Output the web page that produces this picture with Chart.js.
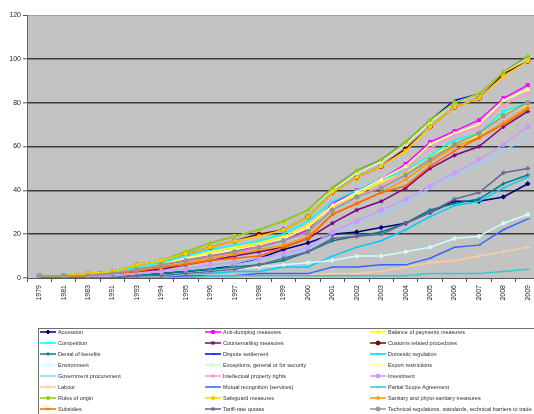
<!DOCTYPE html>
<html>
<head>
<meta charset="utf-8">
<script src="https://cdn.jsdelivr.net/npm/chart.js@4.4.1/dist/chart.umd.min.js"></script>
<style>
  html, body { margin: 0; padding: 0; background: #fff; overflow: hidden; width: 534px; height: 414px; }
  canvas { display: block; }
</style>
</head>
<body>
<canvas id="c" width="548" height="414"></canvas>
<script>
// Years on the category axis
const years = ['1979','1981','1983','1991','1993','1994','1995','1996','1997','1998','1999',
               '2000','2001','2002','2003','2004','2005','2006','2007','2008','2009'];

// Y-axis tick labels
const yTicks = [0, 20, 40, 60, 80, 100, 120];

// Cumulative number of agreements containing each provision
const accession          = [0,0,0,0,1,2,3,4,6,9,13,16,20,21,23,25,30,35,35,37,43];
const antiDumping        = [1,1,1,2,4,6,8,10,12,15,17,22,34,40,45,52,62,67,72,82,88];
const balanceOfPayments  = [1,1,2,3,5,7,9,12,14,16,19,24,33,38,44,48,56,61,65,75,79];
const competition        = [1,1,2,3,5,7,10,13,15,17,20,26,35,40,45,49,56,63,66,76,80];
const countervailing     = [0,0,1,2,3,4,6,8,10,12,14,18,25,31,35,41,50,56,60,69,76];
const customsProcedures  = [1,1,2,3,6,8,11,14,17,20,22,28,39,46,51,59,69,78,82,93,99];
const denialOfBenefits   = [0,0,0,1,1,2,3,4,5,6,8,12,17,19,21,25,31,34,36,43,47];
const disputeSettlement  = [1,1,2,3,6,8,12,16,19,22,26,31,41,49,54,62,72,81,84,94,101];
const domesticRegulation = [0,0,0,0,1,1,2,2,3,3,5,5,10,14,17,22,28,33,35,41,46];
const environment        = [0,0,0,0,0,1,2,3,4,5,6,7,8,10,10,12,14,18,19,25,29];
const exceptions         = [1,1,2,3,6,8,12,16,19,22,26,31,40,48,53,61,71,80,84,94,100];
const exportRestrictions = [1,1,1,2,4,6,9,11,13,15,18,23,33,39,45,51,61,66,70,81,86];
const govProcurement     = [0,0,0,1,2,3,4,5,6,8,10,13,20,25,29,34,41,47,52,58,64];
const intellectualProp   = [1,1,1,2,4,5,7,9,11,14,17,21,31,37,42,49,59,65,69,79,84];
const investment         = [0,0,0,1,2,3,4,6,7,9,11,14,21,26,31,36,42,48,54,61,69];
const labour             = [0,0,0,0,0,0,0,1,1,1,1,1,2,2,3,5,7,8,10,12,14];
const mutualRecognition  = [0,0,0,0,0,0,1,1,1,2,2,2,5,5,6,6,9,14,15,22,27];
const partialScope       = [0,0,0,0,0,0,0,1,1,1,1,1,1,1,1,1,2,2,2,3,4];
const rulesOfOrigin      = [1,1,2,3,6,8,12,16,19,22,26,31,41,49,54,62,72,80,84,94,101];
const safeguards         = [1,1,2,3,6,8,11,14,17,19,22,28,39,46,51,58,69,78,82,92,99];
const sanitaryPhyto      = [1,1,1,2,4,5,7,9,11,13,15,19,29,34,39,45,53,60,64,71,78];
const subsidies          = [0,0,1,2,3,5,6,8,9,10,14,18,29,34,39,42,51,58,64,70,77];
const tariffRateQuotas   = [0,0,0,0,1,1,2,3,4,6,9,12,18,19,20,25,30,36,39,48,50];
const technicalBarriers  = [1,1,1,2,4,6,8,10,12,14,17,21,31,37,41,47,54,61,66,74,80];

const seriesNames = [
  'Accession', 'Anti-dumping measures', 'Balance of payments measures',
  'Competition', 'Countervailing measures', 'Customs related procedures',
  'Denial of benefits', 'Dispute settlement', 'Domestic regulation',
  'Environment', 'Exceptions, general or for security', 'Export restrictions',
  'Government procurement', 'Intellectual property rights', 'Investment',
  'Labour', 'Mutual recognition (services)', 'Partial Scope Agreement',
  'Rules of origin', 'Safeguard measures', 'Sanitary and phyto-sanitary measures',
  'Subsidies', 'Tariff-rate quotas', 'Technical regulations, standards, technical barriers to trade'
];
const seriesValues = [
  accession, antiDumping, balanceOfPayments, competition, countervailing, customsProcedures,
  denialOfBenefits, disputeSettlement, domesticRegulation, environment, exceptions, exportRestrictions,
  govProcurement, intellectualProp, investment, labour, mutualRecognition, partialScope,
  rulesOfOrigin, safeguards, sanitaryPhyto, subsidies, tariffRateQuotas, technicalBarriers
];
const seriesColors = [
  '#000080', '#FF00FF', '#FFFF00', '#00FFFF', '#800080', '#800000',
  '#008080', '#0000FF', '#00CCFF', '#CCFFFF', '#CCFFCC', '#FFFF99',
  '#99CCFF', '#FF99CC', '#CC99FF', '#FFCC99', '#3366FF', '#33CCCC',
  '#99CC00', '#FFCC00', '#FF9900', '#FF6600', '#666699', '#969696'
];
const markerCycle = ['rectRot', 'rect', 'triangle', 'crossRot', 'star', 'circle', 'cross', 'dash', 'line'];

const n = seriesNames.length;
const datasets = seriesNames.map((name, i) => ({
  label: name,
  data: seriesValues[i],
  borderColor: seriesColors[i],
  backgroundColor: seriesColors[i],
  pointBorderColor: seriesColors[i],
  pointBackgroundColor: seriesColors[i],
  pointStyle: markerCycle[i % markerCycle.length],
  pointRadius: 2.2,
  pointBorderWidth: 1,
  borderWidth: 1.5,
  tension: 0,
  fill: false,
  order: n - i   // later series are painted over earlier ones
}));

// Grey plot area behind grid and lines
const plotBackground = {
  id: 'plotBackground',
  beforeDraw(chart) {
    const { ctx, chartArea: a } = chart;
    ctx.save();
    ctx.fillStyle = '#c3c3c3';
    ctx.fillRect(a.left, a.top, a.right - a.left, a.bottom - a.top);
    ctx.restore();
  }
};

// Boxed three-column legend under the axis
const boxedLegend = {
  id: 'boxedLegend',
  afterDraw(chart) {
    const ctx = chart.ctx;
    const boxX = 38.5, boxY = 328.5;
    const colX = [40, 205, 370];
    const rowY0 = 332, rowH = 11;
    const lineLen = 16;
    ctx.save();
    ctx.strokeStyle = '#707070';
    ctx.lineWidth = 1;
    ctx.strokeRect(boxX, boxY, 540, 120);
    ctx.font = '5.5px "Liberation Sans", Arial, sans-serif';
    ctx.textBaseline = 'middle';
    ctx.textAlign = 'left';
    chart.data.datasets.forEach((ds, i) => {
      const col = i % 3, row = Math.floor(i / 3);
      const x = colX[col], y = rowY0 + row * rowH;
      ctx.strokeStyle = ds.borderColor;
      ctx.fillStyle = ds.borderColor;
      ctx.lineWidth = 1.5;
      ctx.beginPath();
      ctx.moveTo(x, y);
      ctx.lineTo(x + lineLen, y);
      ctx.stroke();
      if (Chart.helpers && Chart.helpers.drawPoint) {
        ctx.lineWidth = 1;
        Chart.helpers.drawPoint(ctx, { pointStyle: ds.pointStyle, rotation: 0, radius: 2, borderWidth: 1 }, x + lineLen / 2, y);
      }
      ctx.fillStyle = '#303030';
      ctx.fillText(ds.label, x + lineLen + 2, y + 0.5);
    });
    ctx.restore();
  }
};

new Chart(document.getElementById('c'), {
  type: 'line',
  data: { labels: years, datasets },
  plugins: [plotBackground, boxedLegend],
  options: {
    responsive: false,
    animation: false,
    devicePixelRatio: 1,
    layout: { padding: { left: 0, top: 15, right: 8, bottom: 86 } },
    plugins: {
      legend: { display: false },
      tooltip: { enabled: false },
      title: { display: false }
    },
    scales: {
      x: {
        type: 'category',
        offset: true,
        grid: { offset: true, drawOnChartArea: false, drawTicks: true, tickLength: 4, tickColor: '#555', lineWidth: 1 },
        border: { color: '#555', width: 1 },
        ticks: {
          autoSkip: false, minRotation: 90, maxRotation: 90, padding: 3,
          color: '#222', font: { family: '"Liberation Sans", Arial, sans-serif', size: 7 }
        },
        afterFit(s) { s.height = 50; }
      },
      y: {
        min: yTicks[0],
        max: yTicks[yTicks.length - 1],
        afterBuildTicks(s) { s.ticks = yTicks.map(v => ({ value: v })); },
        grid: {
          drawTicks: true, tickLength: 4, tickColor: '#555', tickWidth: 1,
          color: c => c.tick.value === 120 ? '#a2a2a2' : (c.tick.value === 0 ? 'rgba(0,0,0,0)' : '#3a3a3a'),
          lineWidth: c => c.tick.value === 120 ? 1 : 1.6
        },
        border: { color: '#666', width: 1 },
        ticks: {
          padding: 2, color: '#222',
          font: { family: '"Liberation Sans", Arial, sans-serif', size: 7 }
        },
        afterFit(s) { s.width = 27; }
      }
    }
  }
});
</script>
</body>
</html>
